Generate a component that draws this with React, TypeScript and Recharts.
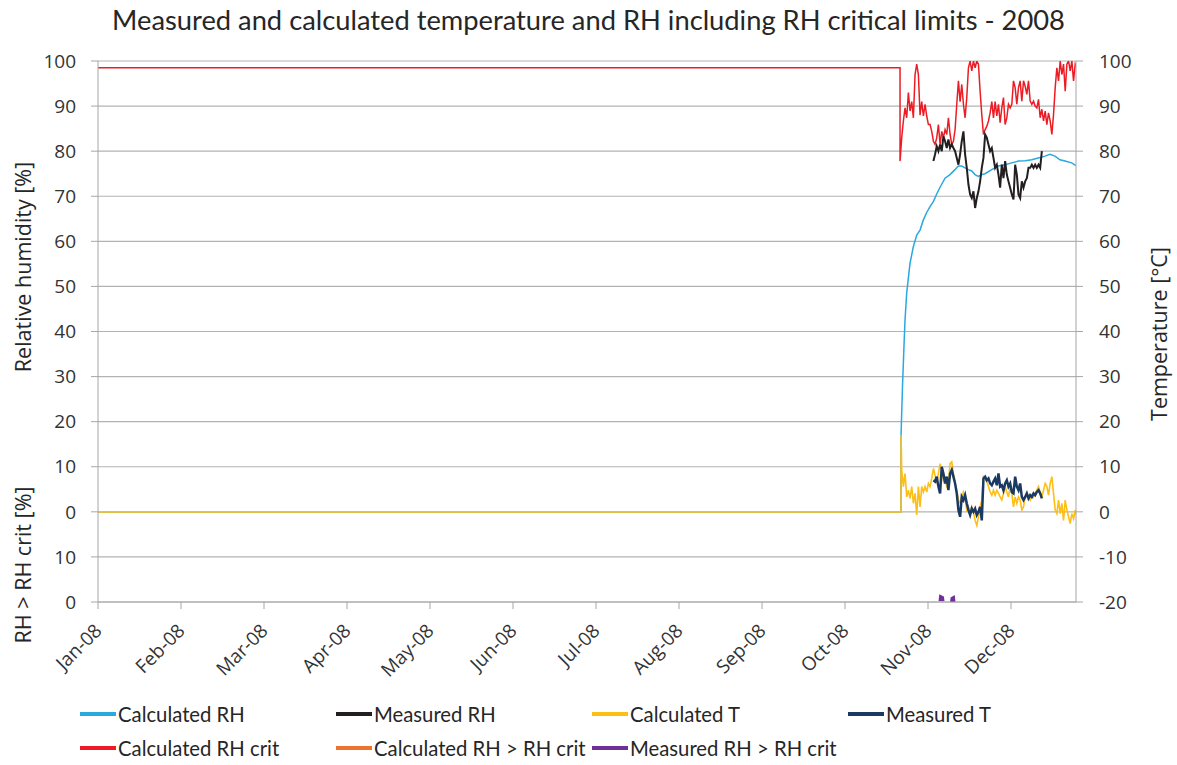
import React from "react";
import { CartesianGrid, Line, LineChart, XAxis, YAxis } from "recharts";

// x axis is in month units: 0 = Jan-08 ... 11 = Dec-08
const months = ["Jan-08", "Feb-08", "Mar-08", "Apr-08", "May-08", "Jun-08", "Jul-08", "Aug-08", "Sep-08", "Oct-08", "Nov-08", "Dec-08"];
const monthTicks = [0, 1, 2, 3, 4, 5, 6, 7, 8, 9, 10, 11];
const yTicks = [-20, -10, 0, 10, 20, 30, 40, 50, 60, 70, 80, 90, 100];
const X_END = 11.783;

// logger records from late October on, one value every STEP months
const T0 = 9.663;
const STEP = 0.0201;

const rhCritBefore = 98.5;
// Calculated RH crit, starts at record 0
const rhCritValues = [
  77.8, 83, 86.7, 89.6, 87.4, 93, 88.9, 91, 87.4, 97, 99.3, 97, 88, 91, 87.8, 90.4, 87.8, 85.9, 85.9, 84.4,
  82.2, 81.5, 83, 85.9, 81.5, 84.4, 83, 84.8, 83.7, 87.4, 83.7, 81.5, 82.2, 84.8, 90.4, 95.6, 91, 94.8, 90.4, 87.4,
  91.9, 98.5, 100, 97.8, 100, 98.5, 100, 99.3, 93.3, 88.1, 83.7, 84.8, 85.5, 86.7, 88.5, 91, 87.4, 91, 87.8, 90.4,
  86.3, 89.6, 91.9, 85.9, 87.4, 90.4, 89.6, 90.4, 95.6, 94.1, 90.4, 94.1, 95.6, 91.1, 95.6, 94.4, 92.6, 95.6, 91.1, 90.4,
  91.1, 90, 89.6, 91.5, 87.4, 89.3, 86.7, 88.9, 85.9, 88.5, 86.7, 83.7, 88.1, 94.1, 98.5, 95.6, 100, 97, 99.3, 93.3,
  99.3, 100, 97.8, 100, 95.6, 99.3, 98.5,
];

// Measured RH, starts at record 20
const measRhValues = [
  77.8, 79.3, 81.1, 80, 81.5, 80, 83.3, 82.2, 80.7, 82.6, 80.7, 81.5, 80.7, 80, 78.5, 77, 79.3, 82.2, 84.4, 79.3,
  76.3, 72.6, 70.4, 69.6, 71.1, 67.4, 69.6, 71.1, 73.3, 76.3, 78.5, 83.7, 83, 81.5, 80, 80.7, 78.5, 76.3, 77, 74.8,
  71.9, 77, 74, 77.8, 74.8, 73.3, 71.9, 70.4, 69.3, 77, 74.8, 70.4, 69.6, 73.3, 71.9, 73.3, 74, 76.3, 76.3, 77,
  76.3, 77, 76.3, 77, 76.3, 80,
];

// Calculated T, starts at record 1
const calcTJump = 17;
const calcTValues = [
  9.3, 5.6, 8.5, 3.3, 4.8, 3, 5.6, 1.9, 4.1, -0.7, 5.6, 1.1, 5.6, 4.4, 5.6, 4.4, 6.3, 5.6, 7.4, 9.6,
  8.1, 6.3, 8.5, 10.7, 9.3, 7, 7.4, 5.6, 6.3, 10.7, 11.1, 8.5, 6.3, 4.8, 2.6, 1.9, 3.3, 4.4, 3, 0.4,
  1.1, -0.4, 1.1, 0, -1.9, -3, -1.1, 1.1, 2.6, 7.8, 7.4, 6.7, 5.6, 4.4, 3.7, 4.8, 3.7, 4.8, 4.1, 3.3,
  2.6, 4.1, 5.6, 4.4, 3.3, 5.6, 4.1, 1.1, 3.3, 1.9, 3.3, 2.6, 0.4, 1.1, 3.3, 4.1, 3.3, 2.6, 3.7, 3.3,
  4.1, 4.8, 5.6, 4.4, 3.3, 4.8, 6.3, 5.6, 3.7, 6.3, 7.8, 4.1, 0.4, -0.4, 2.6, -0.4, 1.9, -1.9, 2.6, 0.4,
  -1.1, -2.6, -0.4, -1.5, 0.4, -1.1,
];

// Measured T, starts at record 20
const measTValues = [
  7, 6.7, 7.8, 5.6, 4.1, 10, 8.5, 6.3, 7.8, 4.8, 8.5, 9.3, 7.8, 6.3, 4.1, 0.4, -1.1, 3.3, 2.6, 3.7,
  1.9, 0.4, -0.7, 0.7, 0, 0.7, -0.7, 0, 1.1, -1.9, 7.4, 7.8, 7, 7.4, 6.3, 5.9, 6.7, 7.4, 5.9, 8.5,
  5.6, 5.9, 4.8, 6.3, 7, 5.6, 6.3, 4.4, 4.1, 7.8, 5.6, 4.8, 6.3, 3.3, 2.6, 3.3, 4.1, 3, 3.7, 3.3,
  4.1, 3.7, 4.4, 4.8, 4.1, 3,
];

// Calculated RH (smooth), month index / value
const calcRhTimes = [
  0, 9.675, 9.675, 9.693, 9.711, 9.723, 9.743, 9.783, 9.823, 9.864, 9.904, 9.943, 9.984, 10.024, 10.064, 10.105,
  10.145, 10.205, 10.265, 10.325, 10.365, 10.406, 10.446, 10.486, 10.527, 10.566, 10.606, 10.647, 10.687, 10.767,
  10.847, 10.928, 11.008, 11.088, 11.169, 11.249, 11.329, 11.41, 11.47, 11.53, 11.59, 11.651, 11.731, 11.783,
];
const calcRhValues = [
  0, 0, 17, 28, 37, 42.5, 48.5, 55.1, 58.8, 61.4, 62.5, 64.7, 66.4, 67.7, 68.8, 70.5,
  72, 74, 74.8, 75.9, 76.7, 76.7, 76.3, 75.9, 75.6, 74.8, 74.4, 74.8, 75, 75.9,
  76.7, 77, 77.4, 77.8, 77.9, 78.1, 78.5, 78.9, 79.3, 78.9, 78.1, 77.8, 77.4, 76.8,
];

// RH > RH crit [%], read on the lower left scale (0 sits at -20)
const measOverTimes = [10.145, 10.151, 10.175, 10.181, 10.283, 10.289, 10.307, 10.313];
const measOverValues = [0.2, 1.2, 1.0, 0.2, 0, 0.8, 1.0, 0];
const calcOverTimes: number[] = [];
const calcOverValues: number[] = [];
const OVER_BASE = -20;

const records = (values: number[], first: number) =>
  values.map((v, k) => ({ t: +(T0 + (first + k) * STEP).toFixed(4), v }));
const pairs = (times: number[], values: number[], offset = 0) =>
  times.map((t, k) => ({ t, v: values[k] + offset }));

const rhCritData = [{ t: 0, v: rhCritBefore }, { t: T0, v: rhCritBefore }, ...records(rhCritValues, 0)];
const measRhData = records(measRhValues, 20);
const calcTData = [{ t: 0, v: 0 }, { t: 9.675, v: 0 }, { t: 9.675, v: calcTJump }, ...records(calcTValues, 1)];
const measTData = records(measTValues, 20);
const calcRhData = pairs(calcRhTimes, calcRhValues);
const measOverData = [
  ...pairs(measOverTimes.slice(0, 4), measOverValues.slice(0, 4), OVER_BASE),
  { t: 10.2, v: null },
  ...pairs(measOverTimes.slice(4), measOverValues.slice(4), OVER_BASE),
];
const calcOverData = pairs(calcOverTimes, calcOverValues, OVER_BASE);

const legendItems = [
  { name: "Calculated RH", color: "#2AA8E0" },
  { name: "Measured RH", color: "#231F20" },
  { name: "Calculated T", color: "#FDBE16" },
  { name: "Measured T", color: "#1B3A63" },
  { name: "Calculated RH crit", color: "#ED1C24" },
  { name: "Calculated RH > RH crit", color: "#EE7230" },
  { name: "Measured RH > RH crit", color: "#6F3198" },
];

const tickFont = "'Open Sans', sans-serif";
const textFont = "Lato, 'Open Sans', sans-serif";
const axisGrey = "#A6A6A6";

const MonthTick = (props: any) => {
  const { x, y, payload } = props;
  const ax = x + 5;
  const ay = y + 21;
  return (
    <text x={ax} y={ay} transform={`rotate(-45, ${ax}, ${ay})`} textAnchor="end" fill="#333" fontSize={19} fontFamily={tickFont}>
      {months[payload.value]}
    </text>
  );
};

const sideTitle = (text: string, cx: number, cy: number) => (
  <div
    style={{
      position: "absolute",
      left: cx,
      top: cy,
      transform: "translate(-50%, -50%) rotate(-90deg)",
      whiteSpace: "nowrap",
      fontFamily: tickFont,
      fontSize: 21.5,
      color: "#262626",
    }}
  >
    {text}
  </div>
);

const App = () => {
  return (
    <div style={{ position: "absolute", left: 0, top: 0, width: 1177, height: 765, background: "#fff" }}>
      <div
        style={{
          position: "absolute",
          left: 0,
          width: 1177,
          top: 3,
          textAlign: "center",
          fontFamily: textFont,
          fontSize: 27.3,
          color: "#262626",
        }}
      >
        Measured and calculated temperature and RH including RH critical limits - 2008
      </div>

      <LineChart width={1177} height={765} margin={{ top: 61, right: 31, bottom: 93, left: 38 }}>
        <CartesianGrid yAxisId="left" vertical={false} stroke="#B3B3B3" strokeWidth={1.2} />
        <XAxis
          type="number"
          dataKey="t"
          domain={[0, X_END]}
          ticks={monthTicks}
          interval={0}
          height={70}
          tickSize={7}
          stroke={axisGrey}
          tick={<MonthTick />}
          allowDataOverflow
        />
        <YAxis
          yAxisId="left"
          domain={[-20, 100]}
          ticks={yTicks}
          interval={0}
          width={60}
          tickSize={7}
          tickMargin={15}
          stroke={axisGrey}
          tick={{ fill: "#333", fontSize: 19, fontFamily: tickFont }}
          tickFormatter={(v: number) => (v < 0 ? String(v - OVER_BASE) : String(v))}
          allowDataOverflow
        />
        <YAxis
          yAxisId="right"
          orientation="right"
          domain={[-20, 100]}
          ticks={yTicks}
          interval={0}
          width={70}
          tickSize={7}
          tickMargin={16}
          stroke={axisGrey}
          tick={{ fill: "#333", fontSize: 19, fontFamily: tickFont, textAnchor: "start" }}
          allowDataOverflow
        />
        <Line yAxisId="left" data={rhCritData} dataKey="v" type="linear" stroke="#ED1C24" strokeWidth={1.5} dot={false} isAnimationActive={false} />
        <Line yAxisId="left" data={calcRhData} dataKey="v" type="linear" stroke="#2AA8E0" strokeWidth={1.5} dot={false} isAnimationActive={false} />
        <Line yAxisId="right" data={calcTData} dataKey="v" type="linear" stroke="#FDBE16" strokeWidth={1.6} dot={false} isAnimationActive={false} />
        <Line yAxisId="left" data={measRhData} dataKey="v" type="linear" stroke="#231F20" strokeWidth={2} dot={false} isAnimationActive={false} />
        <Line yAxisId="right" data={measTData} dataKey="v" type="linear" stroke="#1B3A63" strokeWidth={2.5} dot={false} isAnimationActive={false} />
        <Line yAxisId="left" data={calcOverData} dataKey="v" type="linear" stroke="#EE7230" strokeWidth={3} dot={false} isAnimationActive={false} />
        <Line yAxisId="left" data={measOverData} dataKey="v" type="linear" stroke="#6F3198" strokeWidth={3} dot={false} isAnimationActive={false} />
      </LineChart>

      {sideTitle("Relative humidity [%]", 22, 267)}
      {sideTitle("RH > RH crit [%]", 22, 565)}
      {sideTitle("Temperature [°C]", 1158, 334)}

      {legendItems.map((item, i) => (
        <div
          key={item.name}
          style={{
            position: "absolute",
            left: 80 + (i % 4) * 256,
            top: i < 4 ? 702 : 736,
            height: 24,
            display: "flex",
            alignItems: "center",
            whiteSpace: "nowrap",
            fontFamily: textFont,
            fontSize: 20.3,
            color: "#262626",
          }}
        >
          <span style={{ display: "inline-block", width: 36, height: 4, background: item.color, marginRight: 2 }} />
          {item.name}
        </div>
      ))}
    </div>
  );
};

export default App;
